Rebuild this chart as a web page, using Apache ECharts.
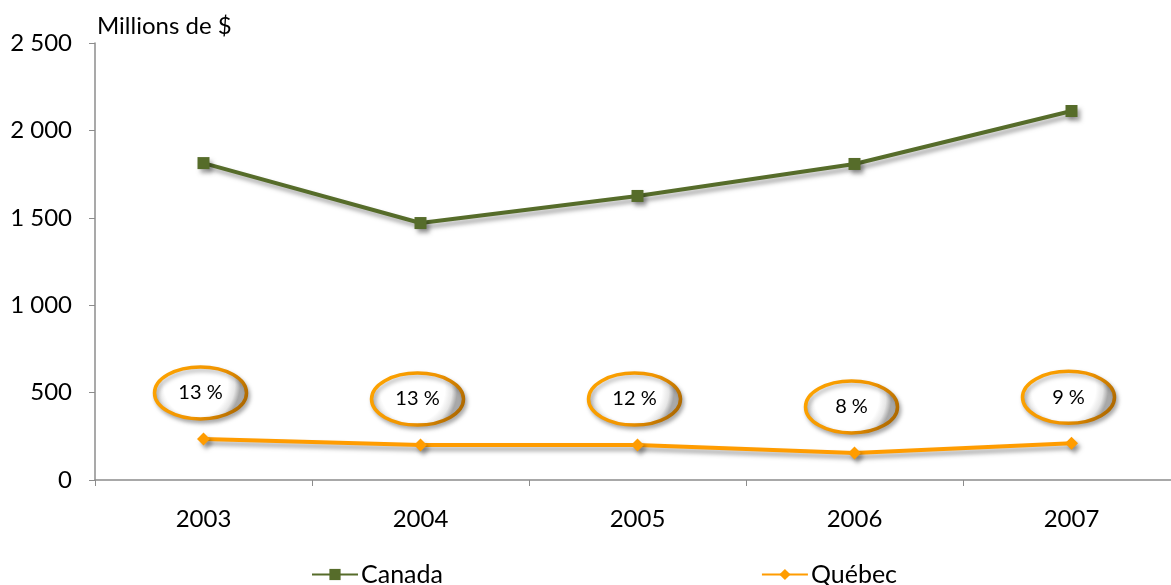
<!DOCTYPE html>
<html>
<head>
<meta charset="utf-8">
<script src="https://cdn.jsdelivr.net/npm/echarts@6/dist/echarts.min.js"></script>
<style>
  html, body { margin: 0; padding: 0; background: #ffffff; overflow: hidden; }
  #chart { width: 1180px; height: 585px; }
</style>
</head>
<body>
<div id="chart"></div>
<script>
// Years on the category axis
const years = ['2003', '2004', '2005', '2006', '2007'];
// Amounts in millions of dollars
const canada = [1813, 1470, 1625, 1808, 2111];
const quebec = [235, 200, 200, 155, 210];
// Québec share of the Canadian total (%)
const quebecShare = [13, 13, 12, 8, 9];
// Value axis ticks
const yMin = 0, yMax = 2500, yStep = 500;

const FONT = 'Lato, "Open Sans", sans-serif';

function spaced(v) {
  if (v < 1000) return String(v);
  return Math.floor(v / 1000) + ' ' + String(v % 1000).padStart(3, '0');
}

const chart = echarts.init(document.getElementById('chart'), null, { renderer: 'canvas' });

const lineShadow = {
  shadowColor: 'rgba(0,0,0,0.35)',
  shadowBlur: 4,
  shadowOffsetX: 3,
  shadowOffsetY: 4
};

chart.setOption({
  backgroundColor: '#ffffff',
  animation: false,
  grid: { left: 95, top: 43, right: 0, height: 437 },
  graphic: [{
    type: 'text',
    left: 97,
    top: 14,
    style: { text: 'Millions de $', font: '24px ' + FONT, fill: '#000' }
  }],
  legend: {
    data: ['Canada', 'Québec'],
    left: 306,
    top: 557,
    itemWidth: 46,
    itemHeight: 14,
    itemGap: 318,
    textStyle: { fontFamily: FONT, fontSize: 25, color: '#000', padding: [0, 0, 0, -2] }
  },
  xAxis: {
    type: 'category',
    data: years,
    boundaryGap: true,
    axisLine: { lineStyle: { color: '#8c8c8c', width: 1.5 } },
    axisTick: { show: true, length: 6, lineStyle: { color: '#8c8c8c' } },
    axisLabel: { margin: 27, fontFamily: FONT, fontSize: 24, color: '#000' },
    splitLine: { show: false }
  },
  yAxis: {
    type: 'value',
    min: yMin,
    max: yMax,
    interval: yStep,
    axisLine: { show: true, lineStyle: { color: '#8c8c8c', width: 1.5 } },
    axisTick: { show: true, length: 6, lineStyle: { color: '#8c8c8c' } },
    axisLabel: { margin: 23, fontFamily: FONT, fontSize: 24, color: '#000', formatter: spaced },
    splitLine: { show: false }
  },
  series: [
    {
      name: 'Canada',
      type: 'line',
      data: canada,
      symbol: 'rect',
      symbolSize: 12,
      color: '#566c2a',
      lineStyle: Object.assign({ width: 4, color: '#566c2a' }, lineShadow),
      itemStyle: Object.assign({ color: '#566c2a' }, lineShadow)
    },
    {
      name: 'Québec',
      type: 'line',
      data: quebec,
      symbol: 'diamond',
      symbolSize: 13,
      color: '#ff9c00',
      lineStyle: Object.assign({ width: 4, color: '#ff9c00' }, lineShadow),
      itemStyle: Object.assign({ color: '#ff9c00' }, lineShadow)
    },
    {
      name: 'Part du Québec',
      type: 'custom',
      coordinateSystem: 'cartesian2d',
      data: quebec.map((v, i) => [i, v, quebecShare[i]]),
      renderItem: function (params, api) {
        const p = api.coord([api.value(0), api.value(1)]);
        const cx = p[0] - 3;
        const cy = p[1] - 46;
        return {
          type: 'group',
          children: [
            {
              type: 'ellipse',
              shape: { cx: cx, cy: cy, rx: 46, ry: 26 },
              style: {
                fill: new echarts.graphic.RadialGradient(0.45, 0.35, 0.8, [
                  { offset: 0, color: '#ffffff' },
                  { offset: 0.72, color: '#ffffff' },
                  { offset: 0.88, color: '#e6e6e6' },
                  { offset: 1, color: '#a8a8a8' }
                ]),
                stroke: new echarts.graphic.LinearGradient(0, 0, 1, 1, [
                  { offset: 0, color: '#ffa500' },
                  { offset: 0.55, color: '#f09400' },
                  { offset: 1, color: '#9a5c00' }
                ]),
                lineWidth: 3.5,
                shadowColor: 'rgba(0,0,0,0.28)',
                shadowBlur: 4,
                shadowOffsetX: 2,
                shadowOffsetY: 3
              }
            },
            {
              type: 'text',
              style: {
                text: api.value(2) + ' %',
                x: cx,
                y: cy,
                align: 'center',
                verticalAlign: 'middle',
                font: '20px ' + FONT,
                fill: '#000'
              }
            }
          ]
        };
      }
    }
  ]
});
</script>
</body>
</html>
